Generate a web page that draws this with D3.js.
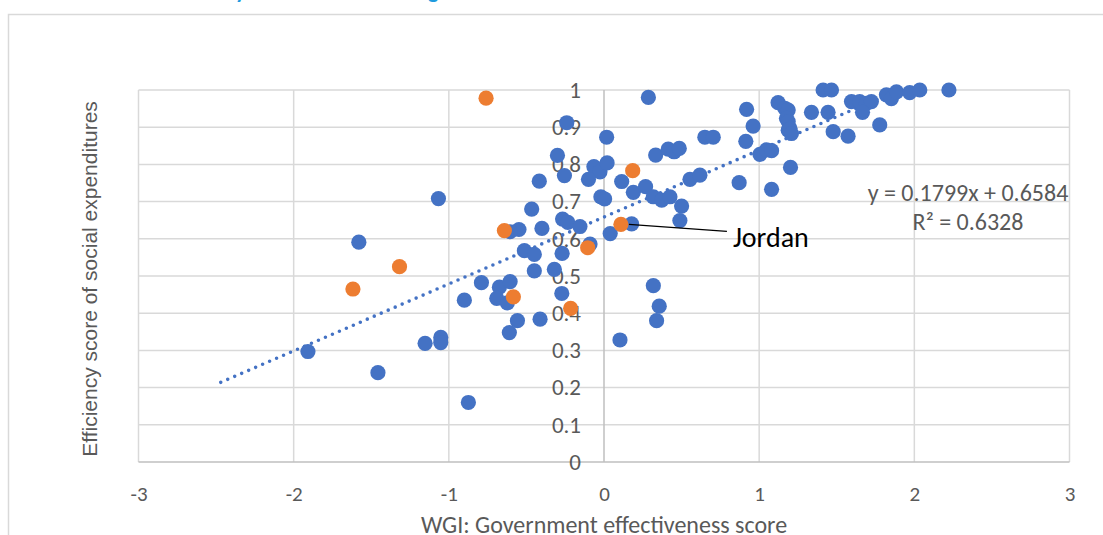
<!DOCTYPE html>
<html>
<head>
<meta charset="utf-8">
<script src="https://cdn.jsdelivr.net/npm/d3@7"></script>
<style>
  body { margin: 0; background: #ffffff; }
  svg { display: block; }
</style>
</head>
<body>
<svg id="chart" width="1103" height="535"></svg>
<script>
// ---------- DATA ----------
const titleText = "Efficiency and the WGI ranking";
const xLabel = "WGI: Government effectiveness score";
const yLabel = "Efficiency score of social expenditures";
const xTicks = [-3, -2, -1, 0, 1, 2, 3];
const yTicks = [0, 0.1, 0.2, 0.3, 0.4, 0.5, 0.6, 0.7, 0.8, 0.9, 1];

// Other countries (blue): [WGI score, efficiency score]
const otherCountries = [
  [-0.24, 0.912], [0.017, 0.873], [-0.30, 0.824], [-0.065, 0.794], [-0.026, 0.780],
  [0.02, 0.804], [-0.255, 0.770], [-0.10, 0.760], [-0.417, 0.755], [-1.067, 0.708],
  [-0.02, 0.713], [0.004, 0.707], [-0.466, 0.680], [-0.267, 0.653], [-0.233, 0.644],
  [-0.155, 0.633], [-0.40, 0.628], [-0.548, 0.625], [-0.605, 0.619], [0.04, 0.614],
  [-1.58, 0.591], [-0.09, 0.586], [-0.513, 0.568], [-0.449, 0.558], [-0.27, 0.561],
  [-0.449, 0.514], [-0.32, 0.518], [-0.79, 0.482], [-0.674, 0.470], [-0.605, 0.485],
  [-0.691, 0.440], [-0.623, 0.428], [-0.90, 0.435], [-0.272, 0.453], [-0.412, 0.384],
  [-0.558, 0.380], [-0.61, 0.348], [-1.052, 0.335], [-1.052, 0.321], [-1.153, 0.319],
  [-1.908, 0.297], [-1.457, 0.240], [-0.874, 0.160], [0.318, 0.474], [0.356, 0.419],
  [0.339, 0.380], [0.103, 0.328], [0.286, 0.980], [0.114, 0.754], [0.189, 0.725],
  [0.268, 0.740], [0.333, 0.825], [0.414, 0.841], [0.452, 0.834], [0.485, 0.843],
  [0.650, 0.873], [0.704, 0.873], [0.178, 0.640], [0.318, 0.713], [0.372, 0.704],
  [0.425, 0.713], [0.50, 0.688], [0.489, 0.649], [0.554, 0.760], [0.618, 0.771],
  [0.919, 0.948], [0.961, 0.903], [0.914, 0.862], [1.005, 0.827], [1.047, 0.839],
  [1.08, 0.837], [1.202, 0.792], [0.871, 0.751], [1.08, 0.733], [1.122, 0.966],
  [1.165, 0.951], [1.187, 0.946], [1.176, 0.924], [1.187, 0.915], [1.198, 0.897],
  [1.187, 0.892], [1.208, 0.883], [1.337, 0.940], [1.444, 0.940], [1.477, 0.888],
  [1.573, 0.876], [1.412, 1.0], [1.466, 1.0], [1.595, 0.969], [1.648, 0.969],
  [1.691, 0.964], [1.723, 0.969], [1.666, 0.940], [1.777, 0.906], [1.82, 0.987],
  [1.852, 0.977], [1.885, 0.995], [1.97, 0.993], [2.035, 1.0], [2.223, 1.0]
];

// Highlighted countries (orange)
const highlighted = [
  [-0.76, 0.978], [-0.642, 0.622], [-0.105, 0.576], [-1.318, 0.525], [-1.618, 0.465],
  [-0.584, 0.444], [-0.215, 0.413], [0.185, 0.783], [0.109, 0.639]
];
const jordan = [0.109, 0.639];
const jordanLabel = "Jordan";

// Linear trendline (as reported on the chart)
const trendSlope = 0.1799;
const trendIntercept = 0.6584;
const trendRange = [-2.47, 1.9];
const trendEq = "y = 0.1799x + 0.6584";
const trendR2 = "R² = 0.6328";

// ---------- DRAW ----------
const svg = d3.select("#chart");
const W = 1103, H = 535;
const BLUE = "#4472c4", ORANGE = "#ed7d31", GRID = "#d9d9d9", AXIS = "#bfbfbf", TXT = "#595959";
const FONT = "Carlito, Lato, sans-serif";

const x = d3.scaleLinear().domain([-3, 3]).range([138.5, 1069.5]);
const y = d3.scaleLinear().domain([0, 1]).range([462, 90]);

// title (mostly cut off at the top, as in the original)
svg.append("text")
  .attr("x", 160).attr("y", -2)
  .attr("font-family", FONT).attr("font-weight", "bold").attr("font-size", 22)
  .attr("fill", "#1f9bde")
  .text(titleText);

// chart frame
svg.append("rect")
  .attr("x", 8.5).attr("y", 14.5).attr("width", W + 20).attr("height", H + 20)
  .attr("fill", "none").attr("stroke", GRID).attr("stroke-width", 1.5);

// gridlines
svg.append("g").selectAll("line").data(yTicks.filter(d => d > 0)).join("line")
  .attr("x1", x(-3)).attr("x2", x(3))
  .attr("y1", d => y(d)).attr("y2", d => y(d))
  .attr("stroke", GRID).attr("stroke-width", 1.5);
svg.append("g").selectAll("line").data(xTicks.filter(d => d !== 0)).join("line")
  .attr("x1", d => x(d)).attr("x2", d => x(d))
  .attr("y1", y(1)).attr("y2", y(0))
  .attr("stroke", GRID).attr("stroke-width", 1.5);

// axis lines
svg.append("line").attr("x1", x(-3)).attr("x2", x(3)).attr("y1", y(0)).attr("y2", y(0))
  .attr("stroke", AXIS).attr("stroke-width", 1.5);
svg.append("line").attr("x1", x(0)).attr("x2", x(0)).attr("y1", y(1)).attr("y2", y(0))
  .attr("stroke", AXIS).attr("stroke-width", 1.5);

// y axis labels (drawn at x = 0)
const yAxis = svg.append("g").attr("transform", `translate(${x(0)},0)`)
  .call(d3.axisLeft(y).tickValues(yTicks).tickSize(0).tickPadding(23)
        .tickFormat(d => String(+d.toFixed(1))));
yAxis.select(".domain").remove();
yAxis.selectAll("text").attr("font-family", FONT).attr("font-size", 23).attr("fill", TXT);

// x axis labels
const xAxis = svg.append("g").attr("transform", `translate(0,${y(0)})`)
  .call(d3.axisBottom(x).tickValues(xTicks).tickSize(0).tickPadding(24)
        .tickFormat(d => String(d)));
xAxis.select(".domain").remove();
xAxis.selectAll("text").attr("font-family", FONT).attr("font-size", 21).attr("fill", TXT);

// trendline (dotted)
svg.append("line")
  .attr("x1", x(trendRange[0])).attr("y1", y(trendSlope * trendRange[0] + trendIntercept))
  .attr("x2", x(trendRange[1])).attr("y2", y(trendSlope * trendRange[1] + trendIntercept))
  .attr("stroke", BLUE).attr("stroke-width", 3.6)
  .attr("stroke-linecap", "round").attr("stroke-dasharray", "0 7.6");

// points
svg.append("g").selectAll("circle").data(otherCountries).join("circle")
  .attr("cx", d => x(d[0])).attr("cy", d => y(d[1])).attr("r", 7.6)
  .attr("fill", BLUE);
svg.append("g").selectAll("circle").data(highlighted).join("circle")
  .attr("cx", d => x(d[0])).attr("cy", d => y(d[1])).attr("r", 7.6)
  .attr("fill", ORANGE);

// Jordan annotation
svg.append("line")
  .attr("x1", x(jordan[0]) + 8).attr("y1", y(jordan[1]))
  .attr("x2", x(jordan[0]) + 106).attr("y2", y(jordan[1]) + 7)
  .attr("stroke", "#000").attr("stroke-width", 1.2);
svg.append("text")
  .attr("x", x(jordan[0]) + 112).attr("y", y(jordan[1]) + 23)
  .attr("font-family", FONT).attr("font-size", 28).attr("fill", "#000")
  .text(jordanLabel);

// trendline label
svg.append("text").attr("x", 968).attr("y", 201).attr("text-anchor", "middle")
  .attr("font-family", FONT).attr("font-size", 24).attr("fill", TXT).text(trendEq);
svg.append("text").attr("x", 968).attr("y", 230).attr("text-anchor", "middle")
  .attr("font-family", FONT).attr("font-size", 24).attr("fill", TXT).text(trendR2);

// axis titles
svg.append("text").attr("x", x(0)).attr("y", 533).attr("text-anchor", "middle")
  .attr("font-family", FONT).attr("font-size", 24).attr("fill", TXT).text(xLabel);
svg.append("text")
  .attr("transform", `translate(97,${(y(0) + y(1)) / 2 + 3}) rotate(-90)`)
  .attr("text-anchor", "middle")
  .attr("font-family", "'Liberation Sans', Arial, sans-serif").attr("font-size", 21)
  .attr("fill", TXT).text(yLabel);
</script>
</body>
</html>
